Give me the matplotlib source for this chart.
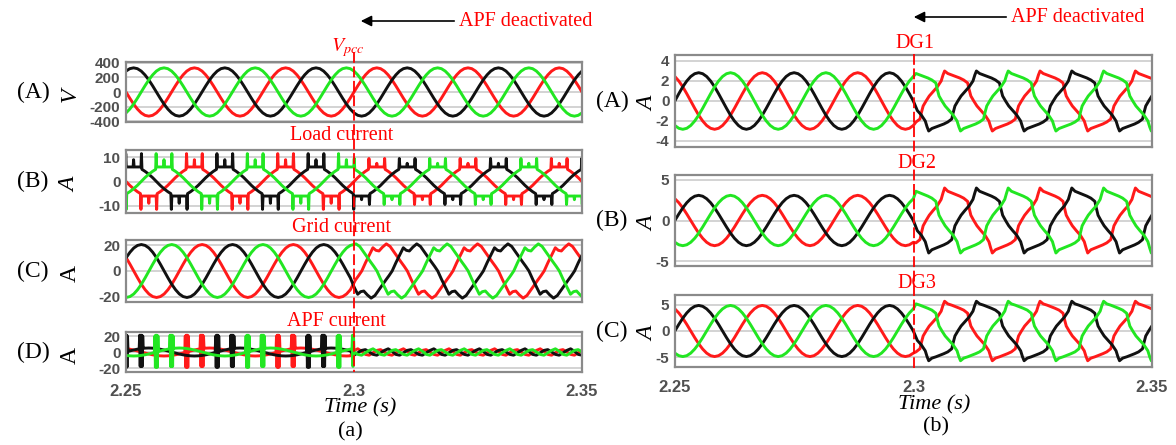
import numpy as np
import matplotlib
matplotlib.use("Agg")
import matplotlib.pyplot as plt
from matplotlib.lines import Line2D
from matplotlib.patches import FancyArrowPatch

plt.rcParams["mathtext.fontset"] = "stix"

T_START, T_SWITCH, T_END = 2.25, 2.30, 2.35
F_GRID = 50.0
x_ticks = [2.25, 2.3, 2.35]
x_tick_labels = ["2.25", "2.3", "2.35"]

ref_pcc = 2.2600      # Vpcc, load current, APF current
ref_grid = 2.2617
ref_dg = 2.2633

# one cycle of phase a as (deg, value) knots; "half" lists are mirrored for 180..360 deg
deg15 = [0, 15, 30, 45, 60, 75, 90, 105, 120, 135, 150, 165]
deg15_full = deg15 + [d + 180 for d in deg15]

vpcc_half = [0, 85, 165, 233, 286, 319, 330, 319, 286, 233, 165, 85]

load_deg = [0, 15, 30, 45, 57, 59, 61, 75, 88, 90, 92, 105, 119, 121, 123, 135, 150, 165]
load_before_half = [0, 1.6, 3.0, 4.2, 5.0, 11.5, 6.0, 6.0, 6.0, 9.0, 6.0, 6.0, 6.0, 11.5, 5.0, 4.2, 3.0, 1.6]
load_after_half = [0, 1.6, 3.0, 4.2, 5.0, 9.5, 6.0, 6.0, 6.0, 7.5, 6.0, 6.0, 6.0, 9.5, 5.0, 4.2, 3.0, 1.6]

grid_before_half = [0, 5.3, 10.3, 14.5, 17.8, 19.8, 20.5, 19.8, 17.8, 14.5, 10.3, 5.3]
grid_after_deg = [0, 15, 30, 44, 56, 68, 82, 97, 112, 128, 142, 155, 168]
grid_after_half = [0, 6.5, 12.5, 18.0, 16.0, 15.5, 18.5, 21.0, 19.0, 14.5, 10.5, 7.0, 3.5]

apf_before_deg = [0, 15, 30, 45, 52, 54, 56, 58, 60, 62, 64, 66, 68, 75, 90, 105,
                  112, 114, 116, 118, 120, 122, 124, 126, 128, 135, 150, 165, 180, 195,
                  210, 225, 240, 255, 270, 285, 300, 315, 330, 345]
apf_before_val = [-4.3, -3.5, -2.5, -1.3, -0.6, 20, -19, 21, -19, 21, -19, 20, 0.6, 1.3, 2.5, 3.5,
                  4.0, 21, -18, 21, -18, 21, -18, 20, 4.5, 4.8, 5.0, 4.8, 4.3, 3.5,
                  2.5, 1.3, 0, -1.3, -2.5, -3.5, -4.3, -4.8, -5.0, -4.8]
apf_after_val = [2, 4, 1, -3, -4, -1, 2, 3, 0, -3, -4, -1,
                 2, 4, 1, -3, -4, -1, 2, 3, 0, -3, -4, -1]

dg1_before_half = [0, 0.73, 1.42, 2.0, 2.45, 2.73, 2.83, 2.73, 2.45, 2.0, 1.42, 0.73]
dg2_before_half = [0, 0.80, 1.55, 2.19, 2.68, 2.99, 3.1, 2.99, 2.68, 2.19, 1.55, 0.80]
dg3_before_half = [0, 1.27, 2.45, 3.46, 4.24, 4.73, 4.9, 4.73, 4.24, 3.46, 2.45, 1.27]
dg_after_deg = [0, 15, 30, 45, 52, 58, 70, 85, 100, 115, 130, 145, 150, 157, 168]
dg1_after_half = [0.5, 0.95, 1.4, 2.0, 2.6, 3.0, 2.75, 2.6, 2.45, 2.3, 2.1, 1.8, 1.2, 0.5, 0.0]
dg2_after_half = [0.65, 1.25, 1.8, 2.6, 3.4, 4.0, 3.6, 3.4, 3.2, 3.0, 2.75, 2.35, 1.6, 0.65, 0.0]
dg3_after_half = [0.95, 1.8, 2.65, 3.8, 4.95, 5.7, 5.2, 4.95, 4.65, 4.35, 4.0, 3.4, 2.3, 0.95, 0.0]


def half_wave(deg, val):
    deg = np.asarray(deg, float)
    val = np.asarray(val, float)
    return np.r_[deg, deg + 180], np.r_[val, -val]


def full_wave(deg, val):
    return np.asarray(deg, float), np.asarray(val, float)


def phase_points(cyc, shift, t_ref, lo, hi):
    deg, val = cyc
    k = np.arange(-5, 6)[:, None]
    t = (t_ref + ((deg + shift) / 360.0 + k) / F_GRID).ravel()
    v = np.tile(val, k.shape[0])
    o = np.argsort(t, kind="stable")
    t, v = t[o], v[o]
    m = (t >= lo) & (t < hi)
    return t[m], v[m]


panels = [
    # column, box (top px, bottom px), ylim, yticks, before, after, phase ref
    dict(col=0, box=(62, 122), ylim=(-410, 410), yticks=[-400, -200, 0, 200, 400],
         before=half_wave(deg15, vpcc_half), after=half_wave(deg15, vpcc_half), ref=ref_pcc,
         tag="(A)", ylab="V", ital=True, title=r"$V_{pcc}$", title_xy=(348, 48)),
    dict(col=0, box=(150, 213), ylim=(-13, 13), yticks=[-10, 0, 10],
         before=half_wave(load_deg, load_before_half), after=half_wave(load_deg, load_after_half), ref=ref_pcc,
         tag="(B)", ylab="A", ital=True, title="Load current", title_xy=(342, 135)),
    dict(col=0, box=(240, 302), ylim=(-24, 24), yticks=[-20, 0, 20],
         before=half_wave(deg15, grid_before_half), after=half_wave(grid_after_deg, grid_after_half), ref=ref_grid,
         tag="(C)", ylab="A", ital=False, title="Grid current", title_xy=(342, 227)),
    dict(col=0, box=(332, 372), ylim=(-25, 25), yticks=[-20, 0, 20],
         before=full_wave(apf_before_deg, apf_before_val), after=full_wave(deg15_full, apf_after_val), ref=ref_pcc,
         tag="(D)", ylab="A", ital=False, title="APF current", title_xy=(336, 321)),
    dict(col=1, box=(55, 147), ylim=(-4.6, 4.6), yticks=[-4, -2, 0, 2, 4],
         before=half_wave(deg15, dg1_before_half), after=half_wave(dg_after_deg, dg1_after_half), ref=ref_dg,
         tag="(A)", ylab="A", ital=True, title="DG1", title_xy=(915, 43)),
    dict(col=1, box=(175, 266), ylim=(-5.6, 5.6), yticks=[-5, 0, 5],
         before=half_wave(deg15, dg2_before_half), after=half_wave(dg_after_deg, dg2_after_half), ref=ref_dg,
         tag="(B)", ylab="A", ital=True, title="DG2", title_xy=(917, 164)),
    dict(col=1, box=(295, 367), ylim=(-6.9, 6.9), yticks=[-5, 0, 5],
         before=half_wave(deg15, dg3_before_half), after=half_wave(dg_after_deg, dg3_after_half), ref=ref_dg,
         tag="(C)", ylab="A", ital=True, title="DG3", title_xy=(917, 284)),
]

W, H = 1176, 445
col_x = [(126, 582), (675, 1152)]
tag_x = [(33, 70), (612, 648)]
colors = ["#ff1a1a", "#111111", "#22e622"]
serif = "Liberation Serif"
sans = "Liberation Sans"

fig = plt.figure(figsize=(W / 100, H / 100), dpi=100)


def fx(x):
    return x / W


def fy(y):
    return 1 - y / H


last_in_col = {0: 3, 1: 6}
for i, p in enumerate(panels):
    x0, x1 = col_x[p["col"]]
    top, bot = p["box"]
    ax = fig.add_axes([fx(x0), fy(bot), (x1 - x0) / W, (bot - top) / H])
    for shift, c in zip([0, 120, 240], colors):
        tb, vb = phase_points(p["before"], shift, p["ref"], T_START - 0.003, T_SWITCH)
        ta, va = phase_points(p["after"], shift, p["ref"], T_SWITCH, T_END + 0.003)
        ax.plot(np.r_[tb, ta], np.r_[vb, va], color=c, lw=2.1, solid_joinstyle="round")
    ax.set_xlim(T_START, T_END)
    ax.set_ylim(*p["ylim"])
    ax.set_yticks(p["yticks"])
    ax.set_yticklabels([str(v) for v in p["yticks"]], fontsize=11, fontweight="bold",
                       color="#505050", family=sans)
    ax.yaxis.grid(True, color="#cccccc", lw=1.2)
    ax.set_axisbelow(True)
    ax.set_xticks(x_ticks)
    if i == last_in_col[p["col"]]:
        ax.set_xticklabels(x_tick_labels, fontsize=12, fontweight="bold", color="#505050", family=sans)
    else:
        ax.set_xticklabels([])
    ax.tick_params(axis="y", length=0, pad=4)
    ax.tick_params(axis="x", length=0, pad=9)
    for s in ax.spines.values():
        s.set_color("#8a8a8a")
        s.set_linewidth(1.6)

    ty = (top + bot) / 2
    tx, lx = tag_x[p["col"]]
    fig.text(fx(tx), fy(ty), p["tag"], family=serif, fontsize=17, ha="center", va="center")
    fig.text(fx(lx), fy(ty + 3), p["ylab"], family=serif, fontsize=17, rotation=90,
             style="italic" if p["ital"] else "normal", ha="center", va="center")
    tx, tyy = p["title_xy"]
    fig.text(fx(tx), fy(tyy), p["title"], family=serif, fontsize=14.5, color="red",
             ha="center", va="center")

# switching instant markers
for x, y0, y1 in [(354, 52, 372), (913.7, 54, 368)]:
    fig.add_artist(Line2D([fx(x), fx(x)], [fy(y0), fy(y1)], transform=fig.transFigure,
                          color="red", lw=1.3, ls=(0, (6, 2)), zorder=10))

for (xa, xb, y) in [(457, 358, 21), (1009, 911, 17)]:
    fig.add_artist(FancyArrowPatch((fx(xa), fy(y)), (fx(xb), fy(y)), transform=fig.transFigure,
                                   arrowstyle="-|>", mutation_scale=16, lw=1.2, color="black"))
    fig.text(fx(xa + 2), fy(y + 1), "APF deactivated", family=serif, fontsize=14.5,
             color="red", ha="left", va="center")

fig.text(fx(360), fy(408), "Time (s)", family=serif, fontsize=16, style="italic", ha="center", va="center")
fig.text(fx(934), fy(405), "Time (s)", family=serif, fontsize=16, style="italic", ha="center", va="center")
fig.text(fx(350), fy(432), "(a)", family=serif, fontsize=16, ha="center", va="center")
fig.text(fx(936), fy(427), "(b)", family=serif, fontsize=16, ha="center", va="center")

fig.savefig("out.png", dpi=100, facecolor="white")
